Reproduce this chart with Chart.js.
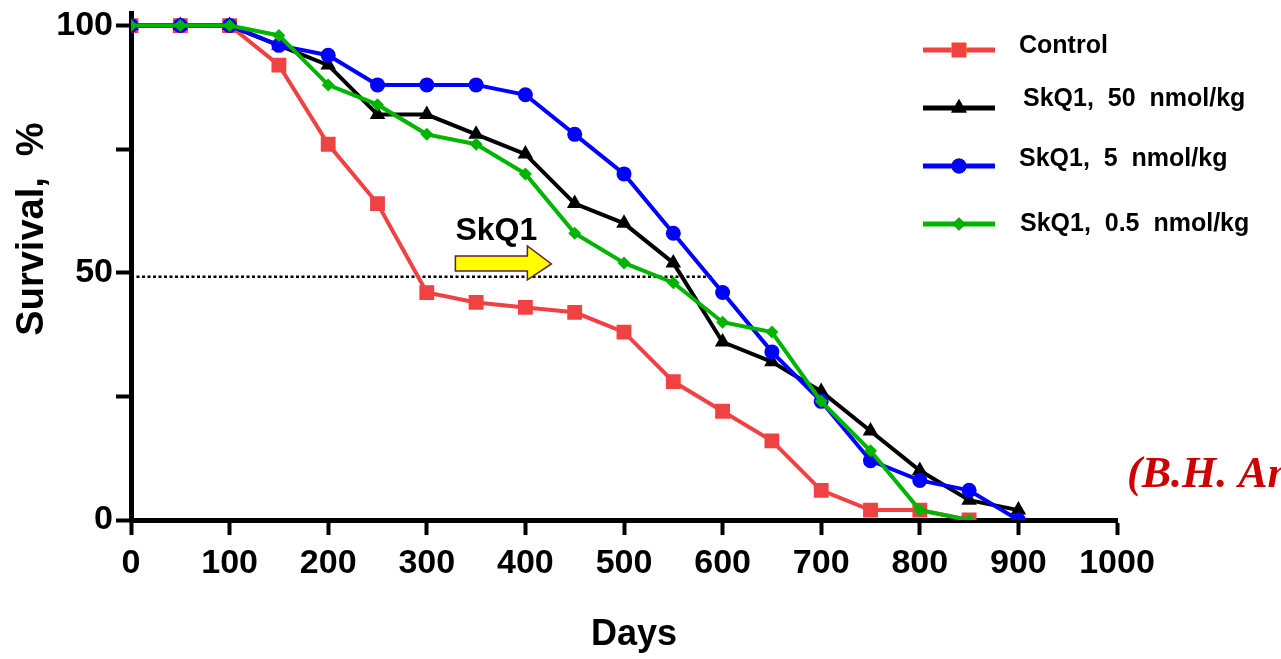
<!DOCTYPE html>
<html>
<head>
<meta charset="utf-8">
<script src="https://cdn.jsdelivr.net/npm/chart.js@4.4.1/dist/chart.umd.min.js"></script>
<style>
  html, body { margin: 0; padding: 0; background: #fff; }
  #wrap { width: 1281px; height: 659px; position: relative; }
</style>
</head>
<body>
<div id="wrap"><canvas id="survival"></canvas></div>
<script>
// days since start
const days = [0, 50, 100, 150, 200, 250, 300, 350, 400, 450, 500, 550, 600, 650, 700, 750, 800, 850, 900];

// survival, %
const control = [100, 100, 100, 92, 76, 64, 46, 44, 43, 42, 38, 28, 22, 16, 6, 2, 2, 0];
const skq50   = [100, 100, 100, 96, 92, 82, 82, 78, 74, 64, 60, 52, 36, 32, 26, 18, 10, 4, 2];
const skq5    = [100, 100, 100, 96, 94, 88, 88, 88, 86, 78, 70, 58, 46, 34, 24, 12, 8, 6, 0];
const skq05   = [100, 100, 100, 98, 88, 84, 78, 76, 70, 58, 52, 48, 40, 38, 24, 14, 2, 0];

const seriesNames = ['Control', 'SkQ1,  50  nmol/kg', 'SkQ1,  5  nmol/kg', 'SkQ1,  0.5  nmol/kg'];
const yTicks = [0, 25, 50, 75, 100];

const halfLine = 49.2;   // dotted 50% guide
const halfLineEnd = 590;

const RED = '#f04242', BLACK = '#000000', BLUE = '#0000ff', GREEN = '#00b400';

function pts(vals) {
  return vals.map((v, i) => ({ x: days[i], y: v }));
}

const extras = {
  id: 'extras',
  beforeDatasetsDraw(chart) {
    const c = chart.ctx, xs = chart.scales.x, ys = chart.scales.y;
    c.save();
    c.strokeStyle = '#000';
    c.lineWidth = 2.5;
    c.setLineDash([3, 2.5]);
    c.beginPath();
    c.moveTo(xs.getPixelForValue(0), ys.getPixelForValue(halfLine));
    c.lineTo(xs.getPixelForValue(halfLineEnd), ys.getPixelForValue(halfLine));
    c.stroke();
    c.restore();
  },
  afterDraw(chart) {
    const c = chart.ctx, xs = chart.scales.x, ys = chart.scales.y;
    c.save();
    c.fillStyle = '#000';

    // axis titles
    c.font = 'bold 36px Arial, sans-serif';
    c.textAlign = 'center';
    c.textBaseline = 'middle';
    c.fillText('Days', 634, 635);
    c.save();
    c.translate(33, 229);
    c.rotate(-Math.PI / 2);
    c.font = 'bold 38px Arial, sans-serif';
    c.fillText('Survival,  %', 0, 0);
    c.restore();

    // SkQ1 label + arrow
    const ax = xs.getPixelForValue(329), ay = ys.getPixelForValue(52);
    c.font = 'bold 32px Arial, sans-serif';
    c.textAlign = 'left';
    c.textBaseline = 'alphabetic';
    c.fillText('SkQ1', ax, ay - 23);
    c.beginPath();
    c.moveTo(ax, ay - 7);
    c.lineTo(ax + 72, ay - 7);
    c.lineTo(ax + 72, ay - 17);
    c.lineTo(ax + 96, ay + 1);
    c.lineTo(ax + 72, ay + 17);
    c.lineTo(ax + 72, ay + 8);
    c.lineTo(ax, ay + 8);
    c.closePath();
    c.fillStyle = '#ffff00';
    c.fill();
    c.strokeStyle = '#6a1a3a';
    c.lineWidth = 1.5;
    c.stroke();

    // legend
    const rows = [
      { y: 50, ty: 53, tx: 1019 },
      { y: 108, ty: 106, tx: 1023 },
      { y: 166, ty: 166, tx: 1019 },
      { y: 224, ty: 231, tx: 1020 }
    ];
    chart.data.datasets.forEach((ds, i) => {
      const r = rows[i];
      c.strokeStyle = ds.borderColor;
      c.lineWidth = 5;
      c.beginPath();
      c.moveTo(923, r.y);
      c.lineTo(995, r.y);
      c.stroke();
      Chart.helpers.drawPoint(c, {
        pointStyle: ds.pointStyle,
        radius: ds.pointRadius,
        borderWidth: 0
      }, 959, r.y);
      c.fillStyle = ds.borderColor;
      c.fill();
      c.fillStyle = '#000';
      c.font = 'bold 25px Arial, sans-serif';
      c.textAlign = 'left';
      c.textBaseline = 'alphabetic';
      c.fillText(ds.label, r.tx, r.ty);
    });

    // citation (cut off by the right edge)
    c.fillStyle = '#cc0000';
    c.font = 'italic bold 44px "Liberation Serif", "Times New Roman", serif';
    c.fillText('(B.H. Anisimov et al.)', 1127, 487);
    c.restore();
  }
};

function line(label, vals, color, style, radius, order) {
  return {
    label: label,
    data: pts(vals),
    borderColor: color,
    backgroundColor: color,
    pointBackgroundColor: color,
    pointBorderColor: color,
    pointBorderWidth: 0,
    borderWidth: 4,
    pointStyle: style,
    pointRadius: radius,
    pointHoverRadius: radius,
    tension: 0,
    order: order
  };
}

new Chart(document.getElementById('survival'), {
  type: 'line',
  data: {
    datasets: [
      line(seriesNames[0], control, RED, 'rect', 10.5, 4),
      line(seriesNames[1], skq50, BLACK, 'triangle', 9, 3),
      line(seriesNames[2], skq5, BLUE, 'circle', 7.5, 2),
      line(seriesNames[3], skq05, GREEN, 'rectRot', 6.5, 1)
    ]
  },
  options: {
    responsive: true,
    maintainAspectRatio: false,
    animation: false,
    events: [],
    layout: { padding: { left: 0, right: 164, top: 13, bottom: 0 } },
    plugins: { legend: { display: false }, tooltip: { enabled: false } },
    scales: {
      x: {
        type: 'linear',
        min: 0,
        max: 1000,
        afterFit(s) { s.height = 139; },
        ticks: {
          stepSize: 100,
          autoSkip: false,
          maxRotation: 0,
          minRotation: 0,
          color: '#000',
          padding: 8,
          callback: v => String(v),
          font: { family: 'Arial, sans-serif', size: 34, weight: 'bold' }
        },
        grid: {
          drawOnChartArea: false,
          drawTicks: true,
          tickLength: 15,
          tickWidth: 4,
          color: '#000'
        },
        border: { color: '#000', width: 5 }
      },
      y: {
        min: 0,
        max: 102.5,
        afterFit(s) { s.width = 131; },
        afterBuildTicks(s) { s.ticks = yTicks.map(v => ({ value: v })); },
        ticks: {
          color: '#000',
          padding: 3,
          callback: v => (v % 50 === 0 ? String(v) : ''),
          font: { family: 'Arial, sans-serif', size: 34, weight: 'bold', lineHeight: 0.6 }
        },
        grid: {
          drawOnChartArea: false,
          drawTicks: true,
          tickLength: 15,
          tickWidth: 4,
          color: '#000'
        },
        border: { color: '#000', width: 5 }
      }
    }
  },
  plugins: [extras]
});
</script>
</body>
</html>
